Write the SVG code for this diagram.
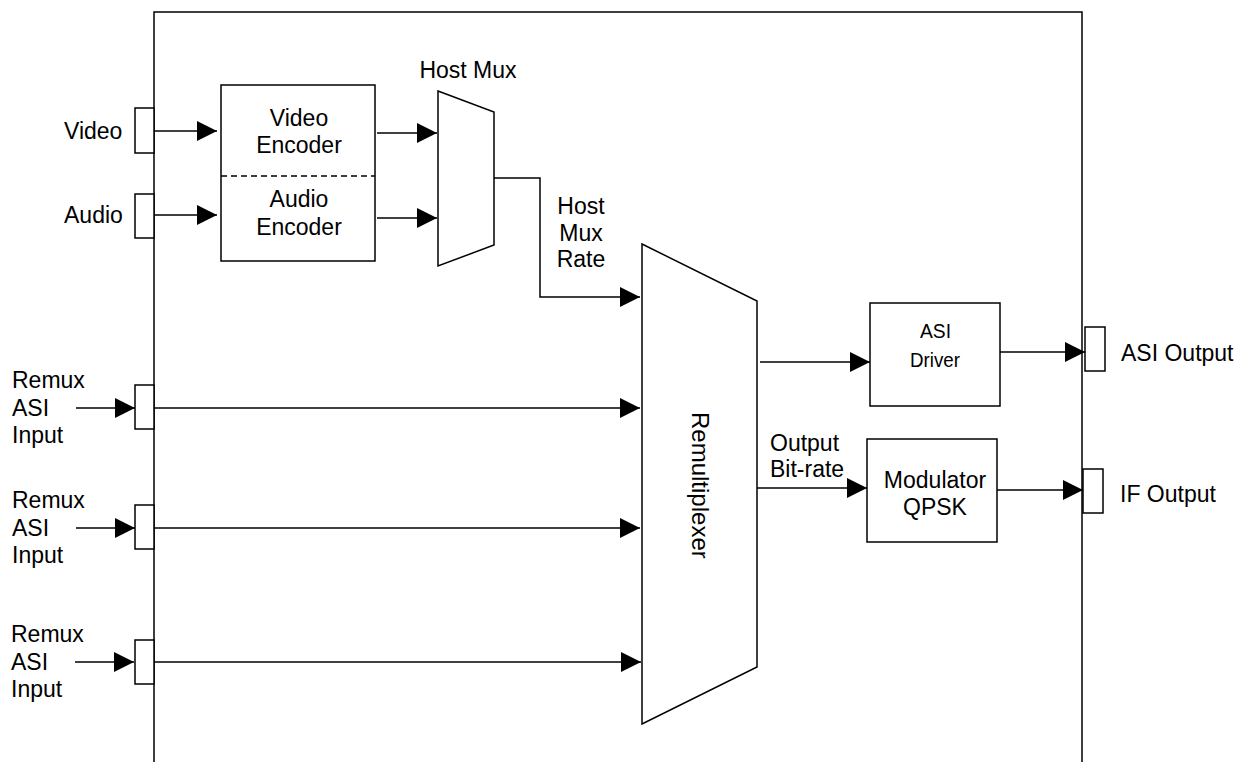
<svg xmlns="http://www.w3.org/2000/svg" width="1255" height="762" viewBox="0 0 1255 762">
<style>
.ln{fill:none;stroke:#000;stroke-width:1.5}
.bx{fill:#fff;stroke:#000;stroke-width:1.5}
.t{font-family:"Liberation Sans",Arial,sans-serif;font-size:23px;fill:#000}
.s{font-family:"Liberation Sans",Arial,sans-serif;font-size:21px;fill:#000}
.c{text-anchor:middle}
</style>
<defs>
<marker id="ah" markerUnits="userSpaceOnUse" markerWidth="20" markerHeight="20" refX="20" refY="10" orient="auto" viewBox="0 0 20 20">
<path d="M0,0 L20,10 L0,20 z" fill="#000"/>
</marker>
</defs>
<rect width="1255" height="762" fill="#fff"/>
<g id="frame"><path class="ln" d="M154,762 V12 H1082 V762"/></g>
<g id="connectors">
<line class="ln" x1="154" y1="131" x2="217" y2="131" marker-end="url(#ah)"/>
<line class="ln" x1="154" y1="215" x2="217" y2="215" marker-end="url(#ah)"/>
<line class="ln" x1="377" y1="133" x2="437" y2="133" marker-end="url(#ah)"/>
<line class="ln" x1="377" y1="218" x2="437" y2="218" marker-end="url(#ah)"/>
<path class="ln" d="M494,178 H540 V297 H640" marker-end="url(#ah)"/>
<line class="ln" x1="76" y1="408" x2="135" y2="408" marker-end="url(#ah)"/>
<line class="ln" x1="154" y1="408" x2="640" y2="408" marker-end="url(#ah)"/>
<line class="ln" x1="76" y1="528" x2="135" y2="528" marker-end="url(#ah)"/>
<line class="ln" x1="154" y1="528" x2="640" y2="528" marker-end="url(#ah)"/>
<line class="ln" x1="75" y1="662" x2="134" y2="662" marker-end="url(#ah)"/>
<line class="ln" x1="154" y1="662" x2="641" y2="662" marker-end="url(#ah)"/>
<line class="ln" x1="760" y1="362" x2="870" y2="362" marker-end="url(#ah)"/>
<line class="ln" x1="1000" y1="352" x2="1085" y2="352" marker-end="url(#ah)"/>
<line class="ln" x1="757" y1="488" x2="867" y2="488" marker-end="url(#ah)"/>
<line class="ln" x1="997" y1="490" x2="1083" y2="490" marker-end="url(#ah)"/>
</g>
<g id="video-port"><rect class="bx" x="135" y="108" width="19" height="45"/><text class="t" x="64" y="139">Video</text></g>
<g id="audio-port"><rect class="bx" x="135" y="194" width="19" height="44"/><text class="t" x="64" y="223">Audio</text></g>
<g id="encoder">
<rect class="bx" x="221" y="85" width="154" height="176"/>
<line x1="221" y1="176" x2="375" y2="176" stroke="#000" stroke-width="1.5" stroke-dasharray="6,4"/>
<text class="t c" x="299" y="126">Video</text>
<text class="t c" x="299" y="153">Encoder</text>
<text class="t c" x="299" y="207">Audio</text>
<text class="t c" x="299" y="235">Encoder</text>
</g>
<g id="host-mux">
<path class="bx" d="M438,91 L494,112 L494,245 L438,266 Z"/>
<text class="t c" x="468" y="78">Host Mux</text>
</g>
<g id="host-mux-rate">
<text class="t c" x="581" y="214">Host</text>
<text class="t c" x="581" y="241">Mux</text>
<text class="t c" x="581" y="267">Rate</text>
</g>
<g id="remux-in-1"><rect class="bx" x="135" y="385" width="19" height="44"/><text class="t" x="12" y="388">Remux</text><text class="t" x="12" y="416">ASI</text><text class="t" x="12" y="443">Input</text></g>
<g id="remux-in-2"><rect class="bx" x="135" y="505" width="19" height="44"/><text class="t" x="12" y="508">Remux</text><text class="t" x="12" y="536">ASI</text><text class="t" x="12" y="563">Input</text></g>
<g id="remux-in-3"><rect class="bx" x="135" y="640" width="19" height="44"/><text class="t" x="11" y="642">Remux</text><text class="t" x="11" y="670">ASI</text><text class="t" x="11" y="697">Input</text></g>
<g id="remultiplexer">
<path class="bx" d="M642,244 L757,301 L757,667 L642,724 Z"/>
<text class="t" transform="translate(692,412) rotate(90)" style="font-size:24px">Remultiplexer</text>
</g>
<g id="asi-driver">
<rect class="bx" x="870" y="303" width="130" height="103"/>
<text class="s" x="920" y="338" textLength="31" lengthAdjust="spacingAndGlyphs">ASI</text>
<text class="s" x="910" y="367" textLength="50" lengthAdjust="spacingAndGlyphs">Driver</text>
</g>
<g id="output-bitrate"><text class="t" x="770" y="451">Output</text><text class="t" x="770" y="477">Bit-rate</text></g>
<g id="modulator">
<rect class="bx" x="867" y="439" width="130" height="103"/>
<text class="t c" x="935" y="488">Modulator</text>
<text class="t c" x="935" y="515">QPSK</text>
</g>
<g id="asi-output"><rect class="bx" x="1085" y="327" width="20" height="44"/><text class="t" x="1121" y="361">ASI Output</text></g>
<g id="if-output"><rect class="bx" x="1083" y="469" width="20" height="44"/><text class="t" x="1120" y="502">IF Output</text></g>
</svg>
